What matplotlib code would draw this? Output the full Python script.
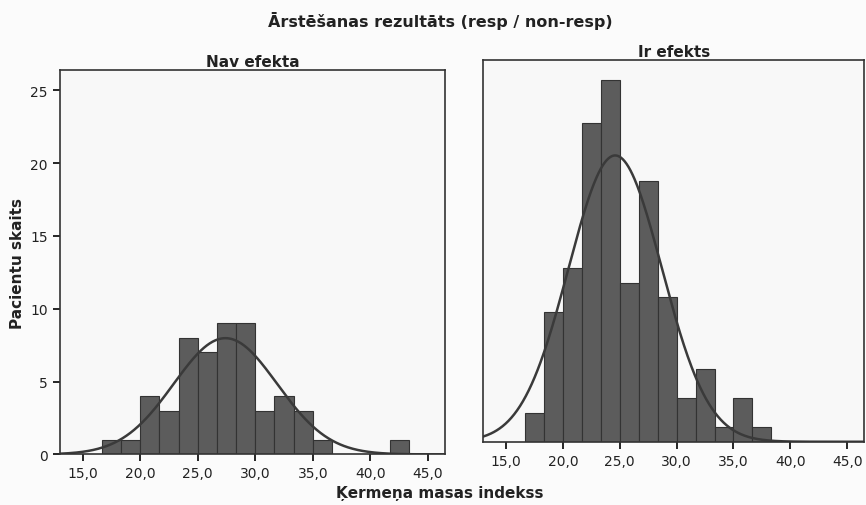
import numpy as np
import matplotlib
matplotlib.use("Agg")
import matplotlib.pyplot as plt

# histogram data (bins of width 5/3 starting at 16.67)
bin_start = 50.0 / 3.0
bin_width = 5.0 / 3.0
counts_nav = [1, 1, 4, 3, 8, 7, 9, 9, 3, 4, 3, 1, 0, 0, 0, 1]
counts_ir = [2, 9, 12, 22, 25, 11, 18, 10, 3, 5, 1, 3, 1]

# fitted normal curves (mean, std)
fit_nav = (27.4, 4.5)
fit_ir = (24.6, 4.1)

panel_titles = ["Nav efekta", "Ir efekts"]
x_ticks = [15, 20, 25, 30, 35, 40, 45]
y_ticks = [0, 5, 10, 15, 20, 25]

bar_color = "#5c5c5c"
edge_color = "#333333"
line_color = "#3a3a3a"

plt.rcParams["font.family"] = ["DejaVu Sans"]
fig = plt.figure(figsize=(8.66, 5.06), dpi=100, facecolor="#fbfbfb")

ax1 = fig.add_axes([0.069, 0.1, 0.445, 0.76])
ax2 = fig.add_axes([0.558, 0.125, 0.44, 0.755])
ax2.sharey(ax1)


def draw(ax, counts, fit, title):
    counts = np.array(counts)
    lefts = bin_start + bin_width * np.arange(len(counts))
    ax.bar(lefts, counts, width=bin_width, align="edge",
           color=bar_color, edgecolor=edge_color, linewidth=0.8)
    n = counts.sum()
    mu, sd = fit
    xs = np.linspace(13.0, 47.0, 400)
    ys = n * bin_width * np.exp(-0.5 * ((xs - mu) / sd) ** 2) / (sd * np.sqrt(2 * np.pi))
    ax.plot(xs, ys, color=line_color, lw=1.8)
    ax.set_xlim(13.0, 46.5)
    ax.set_ylim(0, 26.4)
    ax.set_xticks(x_ticks)
    ax.set_xticklabels([f"{t:.1f}".replace(".", ",") for t in x_ticks],
                       fontsize=10, color="#222222")
    ax.set_facecolor("#f8f8f8")
    for s in ax.spines.values():
        s.set_color("#333333")
        s.set_linewidth(1.2)
    ax.tick_params(axis="x", length=5, width=1.2, direction="out")
    ax.set_title(title, fontsize=11, fontweight="bold", color="#222222", pad=3)


draw(ax1, counts_nav, fit_nav, panel_titles[0])
draw(ax2, counts_ir, fit_ir, panel_titles[1])

ax1.set_yticks(y_ticks)
ax1.set_yticklabels([str(t) for t in y_ticks], fontsize=10, color="#222222")
ax1.tick_params(axis="y", length=5, width=1.2, direction="out")
ax1.set_ylabel("Pacientu skaits", fontsize=11, fontweight="bold", color="#222222")
ax2.tick_params(axis="y", left=False, labelleft=False)

fig.text(0.508, 0.958, "Ārstēšanas rezultāts (resp / non-resp)", ha="center", va="center",
         fontsize=11.5, fontweight="bold", color="#222222")
fig.text(0.508, 0.024, "Ķermeņa masas indekss", ha="center", va="center",
         fontsize=11, fontweight="bold", color="#222222")

fig.savefig("out.png", dpi=100, facecolor=fig.get_facecolor())
